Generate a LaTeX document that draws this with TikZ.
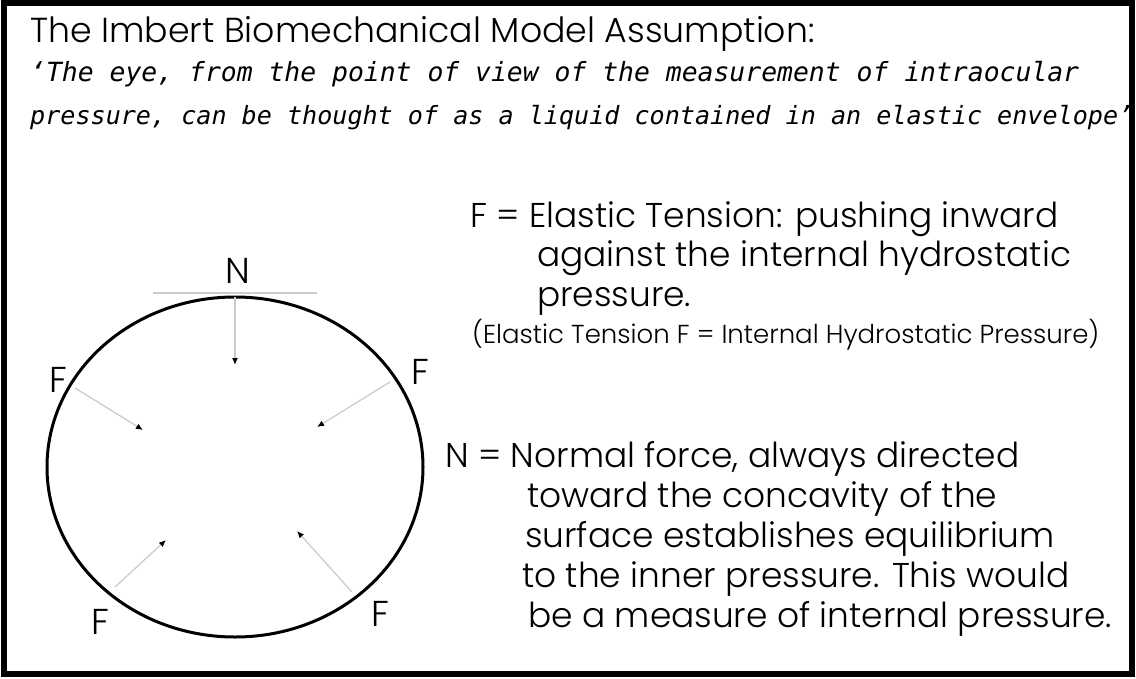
\documentclass[tikz,border=0pt]{standalone}
\usepackage{fontspec}
\setmainfont{Poppins}[UprightFont=* Light]
\newfontfamily\quotefont{DejaVu Sans Mono}
\usetikzlibrary{arrows.meta}

\tikzset{
	force/.style={gray!40, line width=1.3pt, -{Latex[black,length=7pt,width=6pt]}},
	lbl/.style={inner sep=0pt, font=\fontsize{36}{40}\selectfont},
	txt/.style={anchor=base west, inner sep=0pt, font=\fontsize{34.4}{40}\selectfont}
}

\begin{document}
\begin{tikzpicture}[x=1pt, y=-1pt]
		\useasboundingbox (0,0) rectangle (1136,678);
		% frame
		\draw[line width=6pt] (4,3) rectangle (1132,674);

		% title and quote
		\node[txt, font=\fontsize{34.7}{38}\selectfont] (title) at (30,42) {The Imbert Biomechanical Model Assumption:};
		\node[txt, font=\fontsize{26.4}{30}\quotefont\itshape] (quoteA) at (30,81) {‘The eye, from the point of view of the measurement of intraocular};
		\node[txt, font=\fontsize{25.1}{30}\quotefont\itshape] (quoteB) at (30,124) {pressure, can be thought of as a liquid contained in an elastic envelope’};

		% the eye
		\draw[line width=3pt] (235,467) ellipse (188 and 170);
		\coordinate (tanL) at (153,293);
		\coordinate (tanR) at (317,293);
		\draw[gray!40, line width=1.3pt] (tanL) -- (tanR);

		% normal force
		\coordinate (nS) at (235,297);
		\coordinate (nE) at (235,365);
		\draw[force] (nS) -- (nE);
		\node[lbl] (nlbl) at (238,271) {N};

		% elastic tension
		\coordinate (ulS) at (75,388);   \coordinate (ulE) at (143,430);
		\coordinate (urS) at (390,382);  \coordinate (urE) at (317,427);
		\coordinate (llS) at (115,587);  \coordinate (llE) at (166,540);
		\coordinate (lrS) at (352,592);  \coordinate (lrE) at (297,531);
		\draw[force] (ulS) -- (ulE);
		\draw[force] (urS) -- (urE);
		\draw[force] (llS) -- (llE);
		\draw[force] (lrS) -- (lrE);
		\node[lbl] (ful) at (58,380) {F};
		\node[lbl] (fur) at (420,372) {F};
		\node[lbl] (fll) at (100,622) {F};
		\node[lbl] (flr) at (380,614) {F};

		% explanation of F
		\node[txt] (fA) at (470,227) {F = Elastic Tension: pushing inward};
		\node[txt] (fB) at (537,266) {against the internal hydrostatic};
		\node[txt] (fC) at (537,306) {pressure.};
		\node[txt, font=\fontsize{26}{30}\selectfont] (fD) at (472,343) {(Elastic Tension F = Internal Hydrostatic Pressure)};

		% explanation of N
		\node[txt] (nA) at (445,467) {N = Normal force, always directed};
		\node[txt] (nB) at (527,507) {toward the concavity of the};
		\node[txt] (nC) at (525,547) {surface establishes equilibrium};
		\node[txt] (nD) at (522,587) {to the inner pressure. This would};
		\node[txt] (nE) at (528,627) {be a measure of internal pressure.};
	\end{tikzpicture}
\end{document}
